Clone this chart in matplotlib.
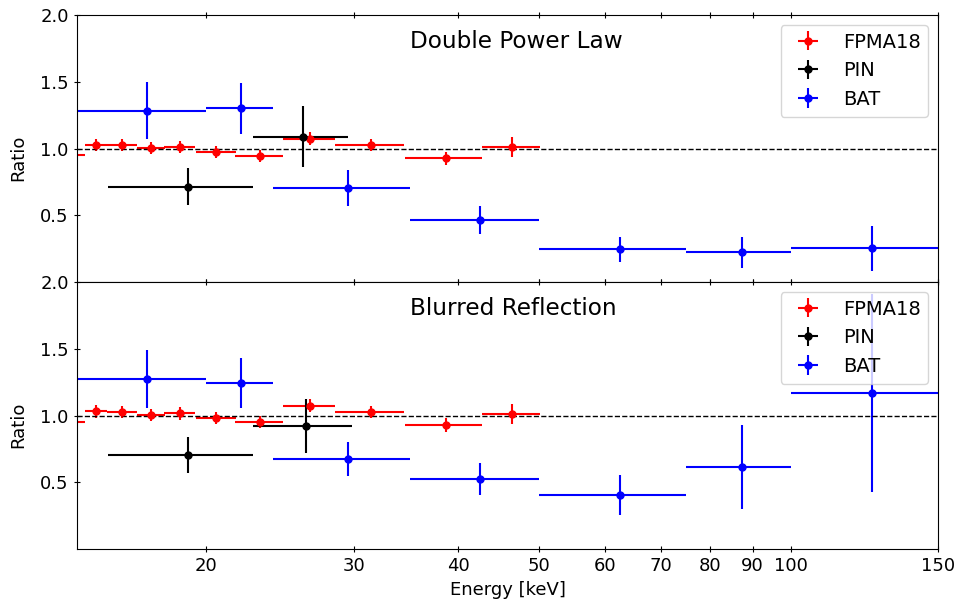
import matplotlib
matplotlib.use('Agg')
import matplotlib.pyplot as plt
from matplotlib.ticker import FixedLocator, ScalarFormatter, NullLocator

# FPMA18 bins (keV) and ratios
fpma_e = [13.75, 14.76, 15.86, 17.16, 18.6, 20.54, 23.16, 26.6, 31.5, 38.65, 46.4]
fpma_hw = [0.55, 0.46, 0.64, 0.66, 0.8, 1.13, 1.5, 1.93, 3.0, 4.12, 3.7]
fpma_dpl = [0.951, 1.026, 1.024, 1.002, 1.014, 0.974, 0.943, 1.074, 1.026, 0.926, 1.011]
fpma_dpl_err = [0.045, 0.045, 0.045, 0.045, 0.045, 0.045, 0.045, 0.05, 0.045, 0.05, 0.073]
fpma_ref = [0.948, 1.030, 1.025, 1.003, 1.015, 0.978, 0.948, 1.073, 1.028, 0.930, 1.013]
fpma_ref_err = [0.045, 0.045, 0.045, 0.045, 0.045, 0.045, 0.045, 0.05, 0.045, 0.05, 0.073]

# PIN
pin_dpl_e = [18.99, 26.12]
pin_dpl_hw = [3.73, 3.38]
pin_dpl = [0.715, 1.089]
pin_dpl_err = [0.138, 0.226]
pin_ref_e = [18.99, 26.3]
pin_ref_hw = [3.73, 3.55]
pin_ref = [0.707, 0.923]
pin_ref_err = [0.134, 0.204]

# BAT
bat_e = [17, 22, 29.5, 42.5, 62.5, 87.5, 125]
bat_hw = [3, 2, 5.5, 7.5, 12.5, 12.5, 25]
bat_dpl = [1.283, 1.300, 0.704, 0.463, 0.244, 0.221, 0.251]
bat_dpl_err = [0.214, 0.191, 0.138, 0.106, 0.094, 0.119, 0.171]
bat_ref = [1.273, 1.243, 0.677, 0.523, 0.405, 0.613, 1.168]
bat_ref_err = [0.214, 0.185, 0.128, 0.121, 0.15, 0.314, 0.74]

xticks = [20, 30, 40, 50, 60, 70, 80, 90, 100, 150]
yticks = [0.5, 1.0, 1.5, 2.0]

panels = [
    ('Double Power Law', fpma_dpl, fpma_dpl_err, pin_dpl_e, pin_dpl_hw, pin_dpl, pin_dpl_err, bat_dpl, bat_dpl_err),
    ('Blurred Reflection', fpma_ref, fpma_ref_err, pin_ref_e, pin_ref_hw, pin_ref, pin_ref_err, bat_ref, bat_ref_err),
]

fig, axes = plt.subplots(2, 1, sharex=True, figsize=(9.61, 6.10), dpi=100)
fig.subplots_adjust(left=0.0801, right=0.9761, top=0.9754, bottom=0.1, hspace=0)

for ax, (title, fr, fre, pe, phw, pr, pre, br, bre) in zip(axes, panels):
    ax.errorbar(fpma_e, fr, xerr=fpma_hw, yerr=fre, fmt='o', color='red', ms=5, label='FPMA18')
    ax.errorbar(pe, pr, xerr=phw, yerr=pre, fmt='o', color='black', ms=5, label='PIN')
    ax.errorbar(bat_e, br, xerr=bat_hw, yerr=bre, fmt='o', color='blue', ms=5, label='BAT')
    ax.axhline(1.0, color='black', ls='--', lw=1)
    ax.set_xscale('log')
    ax.set_xlim(14, 150)
    ax.set_ylim(0, 2.0)
    ax.set_yticks(yticks)
    ax.xaxis.set_major_locator(FixedLocator(xticks))
    ax.xaxis.set_major_formatter(ScalarFormatter())
    ax.xaxis.set_minor_locator(NullLocator())
    ax.tick_params(direction='inout', top=True, labelsize=13, length=5)
    ax.set_ylabel('Ratio', fontsize=13)
    ax.yaxis.set_label_coords(-0.058, 0.465)
    ax.text(35, 1.75, title, fontsize=16.7)
    ax.legend(loc='upper right', fontsize=14)

axes[1].set_xlabel('Energy [keV]', fontsize=13)

plt.savefig('out.png')
